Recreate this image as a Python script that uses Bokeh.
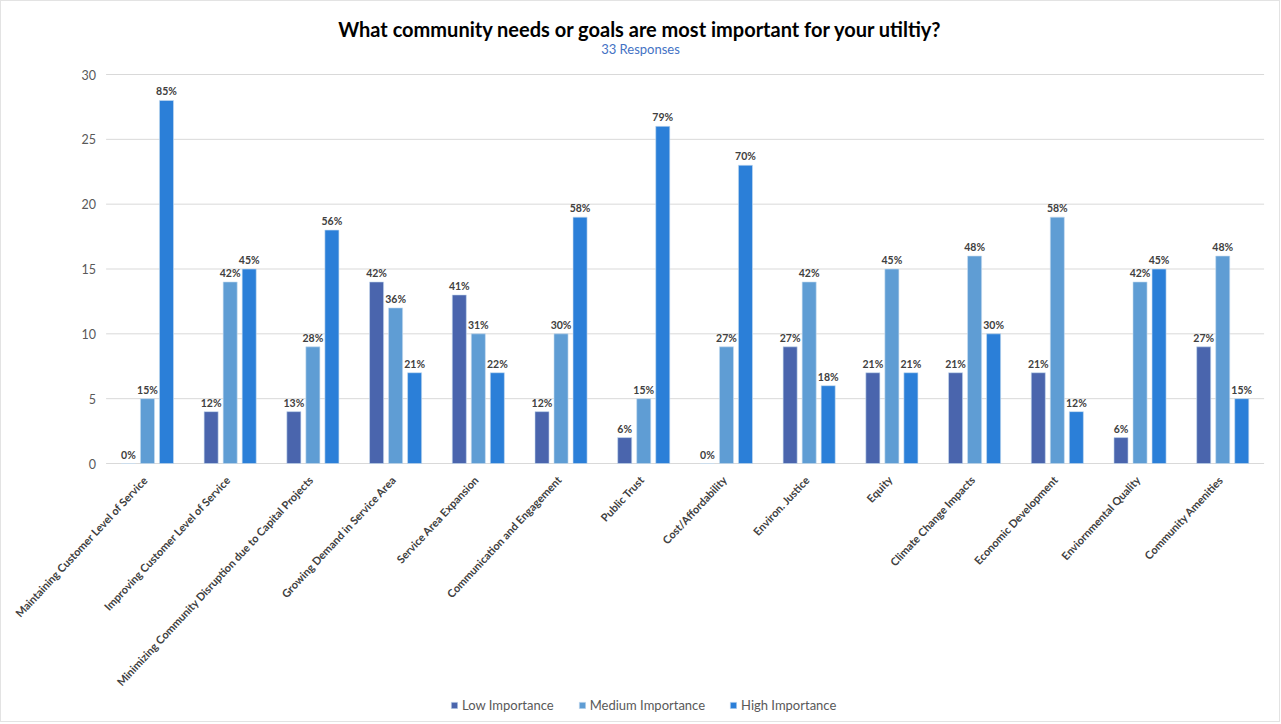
import math
from bokeh.plotting import figure
from bokeh.models import (ColumnDataSource, Range1d, FixedTicker, Legend, LegendItem, Label)
from bokeh.transform import dodge
from bokeh.core.properties import value
from bokeh.embed import file_html
from bokeh.resources import INLINE

categories = [
    "Maintaining Customer Level of Service",
    "Improving Customer Level of Service",
    "Minimizing Community Disruption due to Capital Projects",
    "Growing Demand in Service Area",
    "Service Area Expansion",
    "Communication and Engagement",
    "Public Trust",
    "Cost/Affordability",
    "Environ. Justice",
    "Equity",
    "Climate Change Impacts",
    "Economic Development",
    "Enviornmental Quality",
    "Community Amenities",
]
low_values = [0, 4, 4, 14, 13, 4, 2, 0, 9, 7, 7, 7, 2, 9]
medium_values = [5, 14, 9, 12, 10, 10, 5, 9, 14, 15, 16, 19, 14, 16]
high_values = [28, 15, 18, 7, 7, 19, 26, 23, 6, 7, 10, 4, 15, 5]
low_labels = ["0%", "12%", "13%", "42%", "41%", "12%", "6%", "0%", "27%", "21%", "21%", "21%", "6%", "27%"]
medium_labels = ["15%", "42%", "28%", "36%", "31%", "30%", "15%", "27%", "42%", "45%", "48%", "58%", "42%", "48%"]
high_labels = ["85%", "45%", "56%", "21%", "22%", "58%", "79%", "70%", "18%", "21%", "30%", "12%", "45%", "15%"]
series_names = ["Low Importance", "Medium Importance", "High Importance"]
y_ticks = [0, 5, 10, 15, 20, 25, 30]
title_text = "What community needs or goals are most important for your utiltiy?"
subtitle_text = "33 Responses"

colors = ["#4A65AD", "#5F9DD4", "#2B7FD8"]
FONT = "Lato"

n = len(categories)
src = ColumnDataSource(dict(cat=categories, xc=[i + 0.5 for i in range(n)],
                            low=low_values, med=medium_values, high=high_values,
                            low_lbl=low_labels, med_lbl=medium_labels, high_lbl=high_labels))

# ---- layout in pixels ----
FRAME_LEFT, FRAME_W = 4, 1265          # canvas frame (with 1px css border)
PLOT_LEFT, PLOT_W = 105.6, 1158        # where the category band lives
FRAME_TOP, FRAME_H = 3, 716
PX_X = PLOT_W / n
PX_Y = (463 - 74) / 30.0               # value 30 at y=74, 0 at y=463
x_start = -(PLOT_LEFT - FRAME_LEFT) / PX_X
x_end = (FRAME_LEFT + FRAME_W - PLOT_LEFT) / PX_X
y_end = 30 + (74 - FRAME_TOP) / PX_Y
y_start = -((FRAME_TOP + FRAME_H) - 463) / PX_Y

p = figure(x_range=Range1d(x_start, x_end), y_range=Range1d(y_start, y_end),
           frame_width=FRAME_W, frame_height=FRAME_H, output_backend="svg", toolbar_location=None,
           x_axis_location=None,
           min_border_left=FRAME_LEFT - 1, min_border_right=10, min_border_top=FRAME_TOP - 1,
           min_border_bottom=2)
p.outline_line_color = None
p.background_fill_color = "white"
p.border_fill_color = "white"
p.styles = {"border": "1px solid #E3E3E3"}
p.xgrid.grid_line_color = None
p.ygrid.grid_line_color = None

# horizontal gridlines across the category band
p.segment(x0=0, x1=n, y0=y_ticks, y1=y_ticks, line_color="#D9D9D9", line_width=1)

x_center = (640 - PLOT_LEFT) / PX_X
p.add_layout(Label(x=x_center, y=30 + 46 / PX_Y, text=title_text, text_align="center",
                   text_baseline="middle", text_font=FONT, text_font_size="20px",
                   text_font_style="bold", text_color="#000000"))
p.add_layout(Label(x=x_center, y=30 + 26 / PX_Y, text=subtitle_text, text_align="center",
                   text_baseline="middle", text_font=FONT, text_font_size="13px",
                   text_color="#4472C4"))

offsets = [-0.23, 0.0, 0.23]
fields = ["low", "med", "high"]
lbls = ["low_lbl", "med_lbl", "high_lbl"]
renderers = []
for off, f, lf, c in zip(offsets, fields, lbls, colors):
    r = p.vbar(x=dodge("xc", off), top=f, width=0.17, source=src,
               fill_color=c, line_color="#C9DDF0", line_width=0.6)
    renderers.append(r)
    p.text(x=dodge("xc", off), y=f, text=lf, source=src,
           text_align="center", text_baseline="bottom", y_offset=-3,
           text_font=value(FONT), text_font_size="10.5px", text_font_style="bold",
           text_color="#404040")

# category labels (rotated)
p.text(x="xc", y=0, text="cat", source=src, angle=math.radians(47), text_align="right",
       text_baseline="middle", x_offset=-2, y_offset=14,
       text_font=value(FONT), text_font_size="11px", text_font_style="bold",
       text_color="#404040")

# y axis placed at the left edge of the category band
p.yaxis.fixed_location = 0
p.yaxis.ticker = FixedTicker(ticks=y_ticks)
p.yaxis.axis_line_color = None
p.yaxis.major_tick_line_color = None
p.yaxis.minor_tick_line_color = None
p.yaxis.major_label_text_font = FONT
p.yaxis.major_label_text_font_size = "12.5px"
p.yaxis.major_label_text_color = "#595959"
p.yaxis.major_label_standoff = 4

legend = Legend(items=[LegendItem(label=s, renderers=[r]) for s, r in zip(series_names, renderers)],
                orientation="horizontal", location=(450 - FRAME_LEFT, 6), border_line_color=None,
                background_fill_alpha=0,
                label_text_font=FONT, label_text_font_size="13px", label_text_color="#595959",
                glyph_width=8, glyph_height=8, spacing=24, label_standoff=4, padding=2, margin=0)
p.add_layout(legend)

open("out.html", "w").write(file_html(p, INLINE))
